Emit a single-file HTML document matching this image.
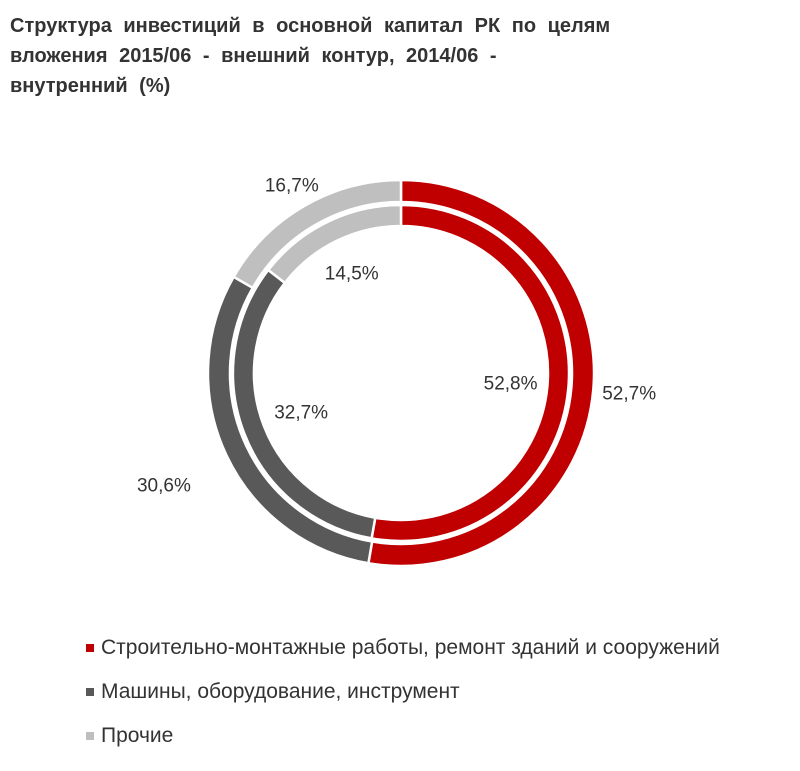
<!DOCTYPE html>
<html><head><meta charset="utf-8"><style>
body{margin:0;background:#fff;width:800px;height:771px;overflow:hidden;font-family:"Liberation Sans",sans-serif;}
#title{position:absolute;left:10px;top:11px;width:760px;font-weight:bold;font-size:20px;line-height:30px;color:#333;word-spacing:6px;}
.leg{position:absolute;left:86px;font-size:21px;color:#333;}
.leg span{display:inline-block;width:8px;height:8px;margin-right:7px;vertical-align:2px;}
</style></head><body>
<div id="title">Структура инвестиций в основной капитал РК по целям<br>вложения 2015/06 - внешний контур, 2014/06 -<br>внутренний (%)</div>
<svg id="chart" width="800" height="771" style="position:absolute;left:0;top:0"></svg>
<div class="leg" style="top:636px"><span style="background:#c00000"></span>Строительно-монтажные работы, ремонт зданий и сооружений</div>
<div class="leg" style="top:680px"><span style="background:#595959"></span>Машины, оборудование, инструмент</div>
<div class="leg" style="top:724px"><span style="background:#bfbfbf"></span>Прочие</div>
<script>
const categories=["Строительно-монтажные работы","Машины, оборудование","Прочие"];
const outerValues=[52.7,30.6,16.7];
const innerValues=[52.8,32.7,14.5];
const outerLabels=["52,7%","30,6%","16,7%"];
const innerLabels=["52,8%","32,7%","14,5%"];
const colors=["#c00000","#595959","#bfbfbf"];
const svg=document.getElementById('chart');
const NS="http://www.w3.org/2000/svg";
const cx=401,cy=373;
function pt(r,a){return [cx+r*Math.sin(a),cy-r*Math.cos(a)];}
function ring(vals,labels,r0,r1,labR,name){
  const tot=vals.reduce((a,b)=>a+b,0);let acc=0;
  vals.forEach((v,i)=>{
    const a0=acc/tot*2*Math.PI;acc+=v;const a1=acc/tot*2*Math.PI;
    const lg=(a1-a0)>Math.PI?1:0;
    const p1=pt(r1,a0),p2=pt(r1,a1),p3=pt(r0,a1),p4=pt(r0,a0);
    const p=document.createElementNS(NS,'path');
    p.setAttribute('d',`M${p1}A${r1},${r1} 0 ${lg} 1 ${p2}L${p3}A${r0},${r0} 0 ${lg} 0 ${p4}Z`);
    p.setAttribute('fill',colors[i]);p.setAttribute('stroke','#fff');p.setAttribute('stroke-width','2.5');
    
    
    svg.appendChild(p);
    const am=(a0+a1)/2;const lp=pt(labR[i],am);
    const t=document.createElementNS(NS,'text');
    t.setAttribute('x',lp[0]);t.setAttribute('y',lp[1]+7);t.setAttribute('text-anchor','middle');
    t.setAttribute('font-size','19');t.setAttribute('fill','#333');t.setAttribute('font-family','Liberation Sans, sans-serif');
    t.textContent=labels[i];
    
    
    svg.appendChild(t);
  });
}
ring(outerValues,outerLabels,171,193,[229,262,218],'outer-ring');
ring(innerValues,innerLabels,147,168,[110,107,112],'inner-ring');
</script>
</body></html>
